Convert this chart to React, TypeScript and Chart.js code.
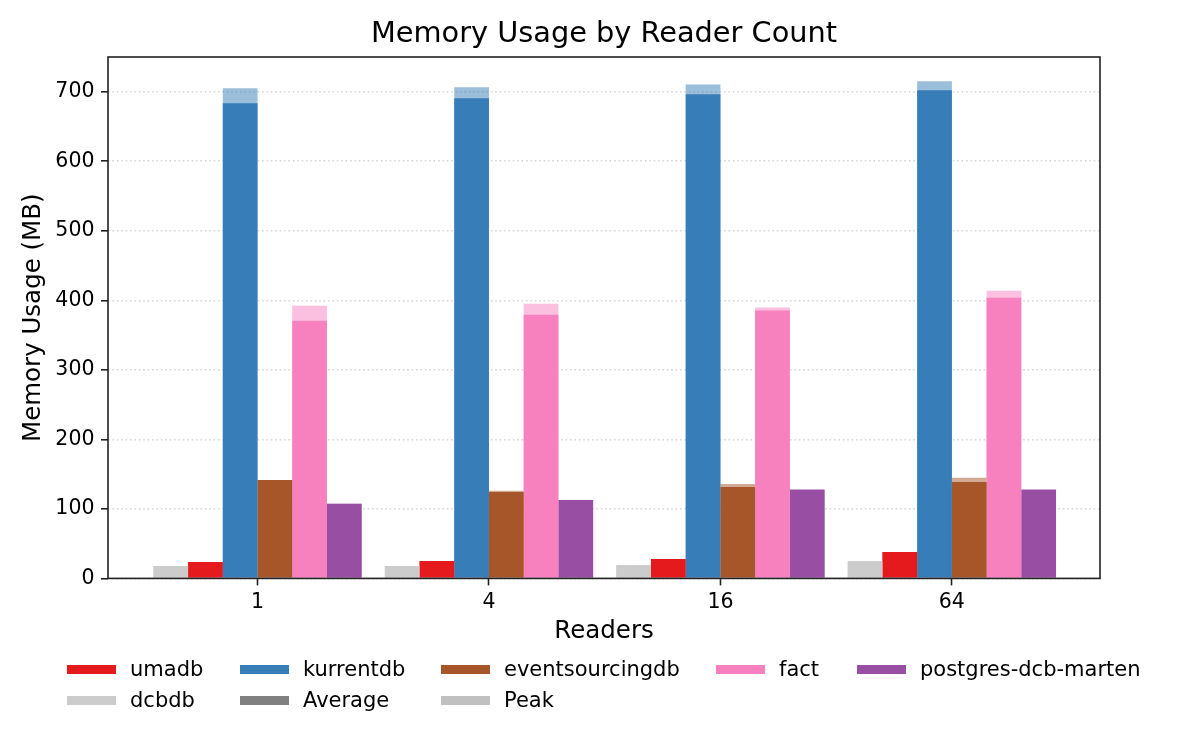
import { useEffect, useRef } from "react"
import { Chart, registerables } from "chart.js"

Chart.register(...registerables)

// x categories (reader counts)
const readers = ["1", "4", "16", "64"]

// memory usage in MB, average and peak per database
const dcbdbAvg = [17.9, 17.9, 19.3, 25.0]
const dcbdbPeak = [17.9, 17.9, 19.3, 25.0]
const umadbAvg = [23.6, 25.0, 27.9, 38.0]
const umadbPeak = [23.6, 25.0, 27.9, 38.0]
const kurrentdbAvg = [683.4, 690.5, 696.3, 702.0]
const kurrentdbPeak = [705.0, 706.4, 710.6, 715.0]
const eventsourcingdbAvg = [141.7, 124.4, 131.6, 138.8]
const eventsourcingdbPeak = [141.7, 125.9, 135.9, 144.6]
const factAvg = [370.7, 379.4, 385.2, 403.6]
const factPeak = [392.3, 395.2, 389.5, 413.7]
const postgresAvg = [107.2, 112.9, 127.3, 127.3]
const postgresPeak = [107.2, 112.9, 128.7, 128.7]

const yTicks = [0, 100, 200, 300, 400, 500, 600, 700]

const series = [
  { name: "dcbdb", avg: dcbdbAvg, peak: dcbdbPeak, rgb: "204, 204, 204" },
  { name: "umadb", avg: umadbAvg, peak: umadbPeak, rgb: "228, 26, 28" },
  { name: "kurrentdb", avg: kurrentdbAvg, peak: kurrentdbPeak, rgb: "55, 126, 184" },
  { name: "eventsourcingdb", avg: eventsourcingdbAvg, peak: eventsourcingdbPeak, rgb: "166, 86, 40" },
  { name: "fact", avg: factAvg, peak: factPeak, rgb: "247, 129, 191" },
  { name: "postgres-dcb-marten", avg: postgresAvg, peak: postgresPeak, rgb: "152, 78, 163" },
]

const TITLE = "Memory Usage by Reader Count"
const FONT = "'DejaVu Sans', sans-serif"
const AXIS = "#222"

// legend in matplotlib order (row-major)
const legendItems = [
  { label: "umadb", color: "rgb(228, 26, 28)" },
  { label: "kurrentdb", color: "rgb(55, 126, 184)" },
  { label: "eventsourcingdb", color: "rgb(166, 86, 40)" },
  { label: "fact", color: "rgb(247, 129, 191)" },
  { label: "postgres-dcb-marten", color: "rgb(152, 78, 163)" },
  { label: "dcbdb", color: "rgb(204, 204, 204)" },
  { label: "Average", color: "rgb(128, 128, 128)" },
  { label: "Peak", color: "rgb(192, 192, 192)" },
]

// axes frame + title centred over the plot area (like matplotlib)
const framePlugin = {
  id: "frame",
  afterDraw(chart: Chart) {
    const { ctx, chartArea } = chart
    ctx.save()
    ctx.strokeStyle = AXIS
    ctx.lineWidth = 1.6
    ctx.strokeRect(chartArea.left, chartArea.top, chartArea.right - chartArea.left, chartArea.bottom - chartArea.top)
    ctx.fillStyle = "#000"
    ctx.font = `28.8px ${FONT}`
    ctx.textAlign = "center"
    ctx.textBaseline = "middle"
    ctx.fillText(TITLE, (chartArea.left + chartArea.right) / 2, 35)
    ctx.restore()
  },
}

function MemoryChart() {
  const chartRef = useRef<HTMLCanvasElement>(null)
  const chartInstance = useRef<Chart | null>(null)

  useEffect(() => {
    if (!chartRef.current) return
    if (chartInstance.current) chartInstance.current.destroy()
    const ctx = chartRef.current.getContext("2d")
    if (!ctx) return

    // average bars first so they are drawn on top of the lighter peak bars
    const avgSets = series.map((s) => ({
      label: s.name + " avg",
      stack: s.name,
      data: s.avg.map((v, i) => ({ x: i, y: v })),
      backgroundColor: `rgba(${s.rgb}, 1)`,
      borderWidth: 0,
    }))
    const peakSets = series.map((s) => ({
      label: s.name + " peak",
      stack: s.name,
      data: s.peak.map((v, i) => ({ x: i, y: v })),
      backgroundColor: `rgba(${s.rgb}, 0.5)`,
      borderWidth: 0,
    }))

    chartInstance.current = new Chart(ctx, {
      type: "bar",
      data: { datasets: [...avgSets, ...peakSets] as any },
      plugins: [framePlugin],
      options: {
        animation: false,
        responsive: true,
        maintainAspectRatio: false,
        layout: { padding: { left: 0, right: 100, top: 57, bottom: 103.6 } },
        datasets: { bar: { categoryPercentage: 0.9, barPercentage: 1.0 } },
        scales: {
          x: {
            type: "linear",
            min: -0.646,
            max: 3.64,
            offset: false,
            afterBuildTicks: (axis: any) => {
              axis.ticks = readers.map((_, i) => ({ value: i }))
            },
            afterFit: (axis: any) => {
              axis.height = 68
            },
            ticks: {
              callback: (v: any) => readers[v] ?? "",
              font: { family: FONT, size: 20.5 },
              color: "#000",
              padding: 5,
              maxRotation: 0,
              autoSkip: false,
            },
            grid: {
              offset: false,
              drawOnChartArea: false,
              drawTicks: true,
              tickLength: 7,
              tickWidth: 1.6,
              tickColor: AXIS,
            },
            border: { display: false },
            title: {
              display: true,
              text: "Readers",
              font: { family: FONT, size: 24.5 },
              color: "#000",
              padding: { top: 0, bottom: 0 },
            },
          },
          y: {
            type: "linear",
            min: 0,
            max: 750,
            stacked: false,
            z: 1,
            afterBuildTicks: (axis: any) => {
              axis.ticks = yTicks.map((v) => ({ value: v }))
            },
            afterFit: (axis: any) => {
              axis.width = 108
            },
            ticks: {
              font: { family: FONT, size: 20.5 },
              color: "#000",
              padding: 6.5,
            },
            grid: {
              color: "rgba(176, 176, 176, 0.5)",
              lineWidth: 1.6,
              drawTicks: true,
              tickLength: 7,
              tickWidth: 1.6,
              tickColor: AXIS,
            },
            border: { display: false, dash: [1.6, 2.8] },
            title: {
              display: true,
              text: "Memory Usage (MB)",
              font: { family: FONT, size: 24.5 },
              color: "#000",
              padding: { top: 19, bottom: 0 },
            },
          },
        },
        plugins: {
          legend: { display: false },
          tooltip: { enabled: false },
          title: { display: false },
        },
      },
    })

    return () => {
      if (chartInstance.current) {
        chartInstance.current.destroy()
        chartInstance.current = null
      }
    }
  }, [])

  return <canvas ref={chartRef} />
}

function LegendBox() {
  return (
    <div
      style={{
        position: "absolute",
        left: 67,
        top: 653.5,
        display: "grid",
        gridTemplateColumns: "173px 201px 275px 141px auto",
        gridAutoRows: "31px",
        alignItems: "center",
        fontFamily: FONT,
        fontSize: 21,
        color: "#000",
      }}
    >
      {legendItems.map((item) => (
        <div key={item.label} style={{ display: "flex", alignItems: "center", whiteSpace: "nowrap" }}>
          <span
            style={{
              display: "inline-block",
              width: 49,
              height: 9,
              background: item.color,
              marginRight: 14,
            }}
          />
          <span style={{ lineHeight: 1 }}>{item.label}</span>
        </div>
      ))}
    </div>
  )
}

export default function App() {
  return (
    <div style={{ position: "absolute", left: 0, top: 0, width: 1200, height: 750, background: "#fff" }}>
      <MemoryChart />
      <LegendBox />
    </div>
  )
}
